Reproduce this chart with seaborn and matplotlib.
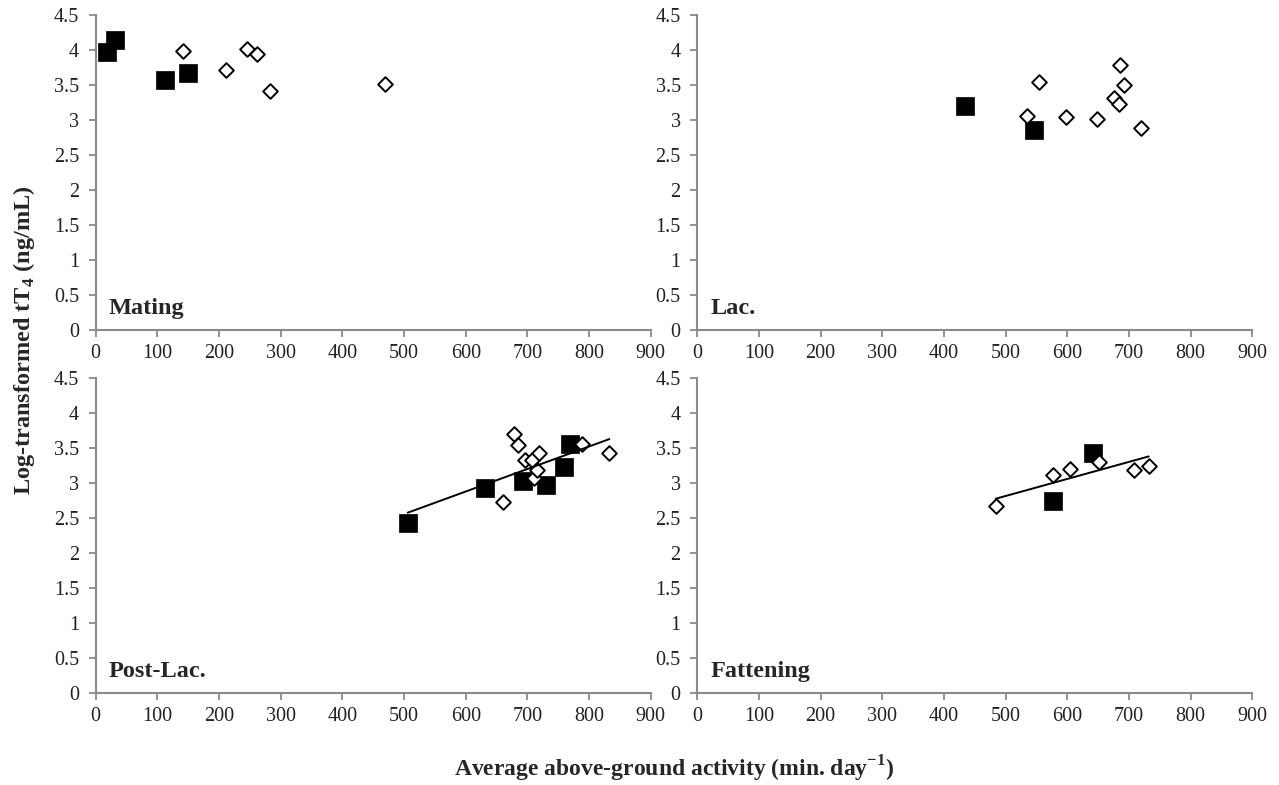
import numpy as np
import pandas as pd
import matplotlib
matplotlib.use("Agg")
import matplotlib.pyplot as plt
import seaborn as sns

# panel names
panels = ["Mating", "Lac.", "Post-Lac.", "Fattening"]

# filled squares
mating_sq_x = [18, 32, 112, 150]
mating_sq_y = [3.97, 4.14, 3.57, 3.67]
lac_sq_x = [434, 546]
lac_sq_y = [3.20, 2.86]
post_sq_x = [506, 631, 693, 731, 759, 769]
post_sq_y = [2.43, 2.93, 3.04, 2.98, 3.23, 3.56]
fat_sq_x = [641, 576]
fat_sq_y = [3.43, 2.75]

# open diamonds
mating_di_x = [142, 211, 246, 262, 282, 469]
mating_di_y = [3.99, 3.71, 4.02, 3.95, 3.42, 3.51]
lac_di_x = [534, 554, 598, 648, 685, 692, 676, 684, 720]
lac_di_y = [3.06, 3.55, 3.05, 3.02, 3.78, 3.50, 3.31, 3.23, 2.89]
post_di_x = [661, 678, 685, 696, 707, 710, 716, 719, 788, 833]
post_di_y = [2.73, 3.71, 3.55, 3.33, 3.33, 3.08, 3.19, 3.44, 3.56, 3.44]
fat_di_x = [484, 577, 604, 651, 708, 732]
fat_di_y = [2.68, 3.12, 3.20, 3.30, 3.19, 3.25]

# which panels have a trend line
with_trend = [False, False, True, True]

x_ticks = list(range(0, 1000, 100))
y_ticks = [0, 0.5, 1, 1.5, 2, 2.5, 3, 3.5, 4, 4.5]
y_tick_labels = ["0", "0.5", "1", "1.5", "2", "2.5", "3", "3.5", "4", "4.5"]

sns.set_style("ticks")
plt.rcParams["font.family"] = ["Liberation Serif", "DejaVu Serif"]
plt.rcParams["mathtext.fontset"] = "custom"
plt.rcParams["mathtext.rm"] = "Liberation Serif"
plt.rcParams["mathtext.bf"] = "Liberation Serif:bold"

sq_data = [(mating_sq_x, mating_sq_y), (lac_sq_x, lac_sq_y),
           (post_sq_x, post_sq_y), (fat_sq_x, fat_sq_y)]
di_data = [(mating_di_x, mating_di_y), (lac_di_x, lac_di_y),
           (post_di_x, post_di_y), (fat_di_x, fat_di_y)]

fig = plt.figure(figsize=(12.79, 7.85), dpi=100)
W, H = 1279, 785
# pixel boxes: left, top, right, bottom
boxes = [(95.7, 15, 650.7, 330), (697.3, 15, 1252.3, 330),
         (95.7, 378.3, 650.7, 693.3), (697.3, 378.3, 1252.3, 693.3)]

spine_col = "#8a8a8a"
for i, name in enumerate(panels):
    l, t, r, b = boxes[i]
    ax = fig.add_axes([l / W, 1 - b / H, (r - l) / W, (b - t) / H])
    sx, sy = sq_data[i]
    dx, dy = di_data[i]
    sns.scatterplot(x=sx, y=sy, marker="s", s=150, color="black",
                    edgecolor="black", linewidth=0.5, ax=ax, zorder=3)
    sns.scatterplot(x=dx, y=dy, marker="D", s=56, color="white",
                    edgecolor="black", linewidth=1.4, ax=ax, zorder=4)
    if with_trend[i]:
        df = pd.DataFrame({"x": list(sx) + list(dx), "y": list(sy) + list(dy)})
        sns.regplot(data=df, x="x", y="y", scatter=False, ci=None, ax=ax,
                    line_kws={"color": "black", "lw": 1.4, "zorder": 5})
    ax.set_xlim(0, 900)
    ax.set_ylim(0, 4.5)
    ax.set_xticks(x_ticks)
    ax.set_yticks(y_ticks)
    ax.set_yticklabels(y_tick_labels)
    ax.set_xlabel("")
    ax.set_ylabel("")
    for side in ["top", "right"]:
        ax.spines[side].set_visible(False)
    for side in ["left", "bottom"]:
        ax.spines[side].set_color(spine_col)
        ax.spines[side].set_linewidth(1.5)
    ax.tick_params(axis="both", colors=spine_col, labelcolor="#222222",
                   labelsize=14.5, length=5, width=1.3, direction="out")
    ax.tick_params(axis="x", pad=5)
    ax.tick_params(axis="y", pad=7)
    ax.patch.set_alpha(0)
    ax.text(0.024, 0.035, name, transform=ax.transAxes, fontsize=17.5,
            fontweight="bold", ha="left", va="bottom")

fig.text(0.019, 0.567, r"Log-transformed tT$_\mathbf{4}$ (ng/mL)",
         rotation=90, ha="center", va="center", fontsize=17.5, fontweight="bold")
fig.text(0.527, 0.02, r"Average above-ground activity (min. day$^\mathbf{-1}$)",
         ha="center", va="center", fontsize=17, fontweight="bold")

fig.savefig("out.png", dpi=100)
